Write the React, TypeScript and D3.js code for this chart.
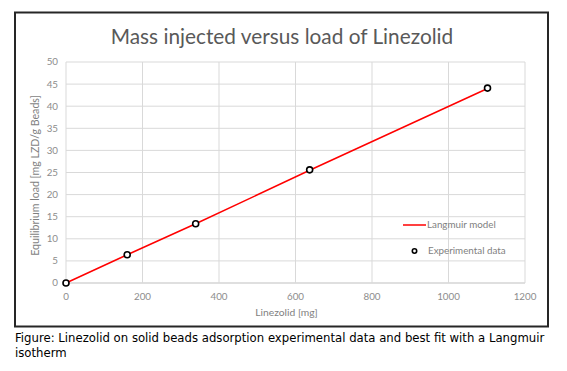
import * as d3 from 'd3';
import React, { useEffect, useRef } from 'react';

const massInjected = [0, 160, 339, 637, 1102];
const equilibriumLoad = [0, 6.4, 13.4, 25.6, 44.1];

// langmuir model curve
const modelMass = [0, 160, 339, 637, 1102];
const modelLoad = [0, 6.4, 13.4, 25.5, 44.0];

const xTicks = [0, 200, 400, 600, 800, 1000, 1200];
const yTicks = [0, 5, 10, 15, 20, 25, 30, 35, 40, 45, 50];

const title = 'Mass injected versus load of Linezolid';
const xTitle = 'Linezolid [mg]';
const yTitle = 'Equilibrium load [mg LZD/g Beads]';
const legendLabels = ['Langmuir model', 'Experimental data'];
const caption = [
  'Figure: Linezolid on solid beads adsorption experimental data and best fit with a Langmuir',
  'isotherm',
];

const App = () => {
  const ref = useRef<SVGSVGElement>(null);

  useEffect(() => {
    const svg = d3.select(ref.current);
    svg.selectAll('*').remove();

    const font = 'Lato, "Open Sans", sans-serif';
    const margin = { top: 62, right: 42, bottom: 88, left: 66 },
      width = 567 - margin.left - margin.right,
      height = 371 - margin.top - margin.bottom;

    // outer chart frame
    svg.append('rect')
      .attr('x', 15).attr('y', 12.5)
      .attr('width', 533).attr('height', 314)
      .attr('fill', 'white')
      .attr('stroke', '#262626')
      .attr('stroke-width', 2);

    svg.append('text')
      .attr('x', 282).attr('y', 44)
      .attr('text-anchor', 'middle')
      .attr('font-family', font)
      .attr('font-size', 20.8)
      .attr('fill', '#595959')
      .text(title);

    const g = svg.append('g')
      .attr('transform', `translate(${margin.left},${margin.top})`);

    const x = d3.scaleLinear().domain([0, 1200]).range([0, width]);
    const y = d3.scaleLinear().domain([0, 50]).range([height, 0]);

    // grid
    g.append('g')
      .selectAll('line')
      .data(yTicks)
      .join('line')
      .attr('x1', 0).attr('x2', width)
      .attr('y1', d => y(d)).attr('y2', d => y(d))
      .attr('stroke', d => d === 0 ? '#bfbfbf' : '#d9d9d9')
      .attr('stroke-width', 1);

    g.append('g')
      .selectAll('line')
      .data(xTicks)
      .join('line')
      .attr('x1', d => x(d)).attr('x2', d => x(d))
      .attr('y1', 0).attr('y2', height)
      .attr('stroke', '#d9d9d9')
      .attr('stroke-width', 1);

    // tick labels
    g.append('g')
      .selectAll('text')
      .data(yTicks)
      .join('text')
      .attr('x', -8)
      .attr('y', d => y(d))
      .attr('dy', '0.35em')
      .attr('text-anchor', 'end')
      .attr('font-family', font)
      .attr('font-size', 9.8)
      .attr('fill', '#8c8c8c')
      .text(d => d);

    g.append('g')
      .selectAll('text')
      .data(xTicks)
      .join('text')
      .attr('x', d => x(d))
      .attr('y', height + 17)
      .attr('text-anchor', 'middle')
      .attr('font-family', font)
      .attr('font-size', 9.8)
      .attr('fill', '#8c8c8c')
      .text(d => d);

    // axis titles
    g.append('text')
      .attr('x', x(600) - 9)
      .attr('y', height + 33)
      .attr('text-anchor', 'middle')
      .attr('font-family', font)
      .attr('font-size', 10.3)
      .attr('fill', '#7f7f7f')
      .text(xTitle);

    g.append('text')
      .attr('transform', `translate(-27,${y(25) + 3}) rotate(-90)`)
      .attr('text-anchor', 'middle')
      .attr('font-family', font)
      .attr('font-size', 10.6)
      .attr('fill', '#7f7f7f')
      .text(yTitle);

    // model line
    const modelData = modelMass.map((m, i) => ({ m, q: modelLoad[i] }));
    g.append('path')
      .datum(modelData)
      .attr('fill', 'none')
      .attr('stroke', '#ff0000')
      .attr('stroke-width', 1.5)
      .attr('d', d3.line<{ m: number; q: number }>()
        .x(d => x(d.m))
        .y(d => y(d.q)));

    // experimental points
    const expData = massInjected.map((m, i) => ({ m, q: equilibriumLoad[i] }));
    g.append('g')
      .selectAll('circle')
      .data(expData)
      .join('circle')
      .attr('cx', d => x(d.m))
      .attr('cy', d => y(d.q))
      .attr('r', 3)
      .attr('fill', 'white')
      .attr('stroke', 'black')
      .attr('stroke-width', 1.6);

    // legend
    const legend = svg.append('g').attr('font-family', font).attr('font-size', 9.8).attr('fill', '#7f7f7f');
    legend.append('line')
      .attr('x1', 403).attr('x2', 426)
      .attr('y1', 225).attr('y2', 225)
      .attr('stroke', '#ff0000')
      .attr('stroke-width', 1.5);
    legend.append('text')
      .attr('x', 427).attr('y', 225).attr('dy', '0.35em')
      .text(legendLabels[0]);
    legend.append('circle')
      .attr('cx', 414.5).attr('cy', 251)
      .attr('r', 2.2)
      .attr('fill', 'white')
      .attr('stroke', 'black')
      .attr('stroke-width', 1.6);
    legend.append('text')
      .attr('x', 428).attr('y', 251).attr('dy', '0.35em')
      .text(legendLabels[1]);

    // figure caption
    svg.append('g')
      .selectAll('text')
      .data(caption)
      .join('text')
      .attr('x', 15)
      .attr('y', (d, i) => 342 + i * 15)
      .attr('font-family', '"DejaVu Sans", Verdana, sans-serif')
      .attr('font-size', 11.7)
      .attr('fill', 'black')
      .text(d => d);
  }, []);

  return (
    <svg ref={ref} width={567} height={371}
      style={{ position: 'absolute', left: 0, top: 0, background: 'white' }} />
  );
};

export default App;
